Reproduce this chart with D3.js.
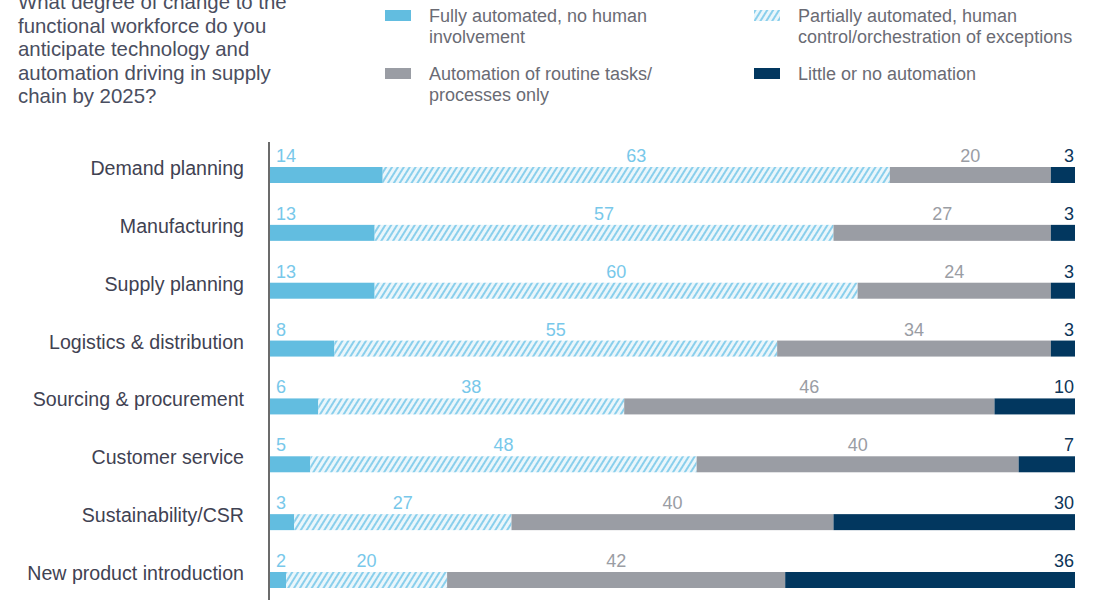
<!DOCTYPE html>
<html>
<head>
<meta charset="utf-8">
<script src="https://cdn.jsdelivr.net/npm/d3@7"></script>
<style>
  html, body { margin: 0; padding: 0; background: #fff; }
  #chart { width: 1094px; height: 600px; overflow: hidden; }
  text { font-family: "Liberation Sans", Arial, Helvetica, sans-serif; }
</style>
</head>
<body>
<div id="chart"></div>
<script>
// Supply chain automation by 2025 — stacked horizontal bars (percent)
const categories = [
  "Demand planning",
  "Manufacturing",
  "Supply planning",
  "Logistics & distribution",
  "Sourcing & procurement",
  "Customer service",
  "Sustainability/CSR",
  "New product introduction"
]

const fullyAutomated     = [14, 13, 13, 8, 6, 5, 3, 2]
const partiallyAutomated = [63, 57, 60, 55, 38, 48, 27, 20]
const routineOnly        = [20, 27, 24, 34, 46, 40, 40, 42]
const littleOrNone       = [3, 3, 3, 3, 10, 7, 30, 36]

const seriesKeys = ["fully", "partial", "routine", "little"]

const legendLabels = [
  ["Fully automated, no human", "involvement"],
  ["Partially automated, human", "control/orchestration of exceptions"],
  ["Automation of routine tasks/", "processes only"],
  ["Little or no automation"]
]

// first line is cropped by the top edge, as in the source image
const questionLines = [
  "What degree of change to the",
  "functional workforce do you",
  "anticipate technology and",
  "automation driving in supply",
  "chain by 2025?"
]

const width = 1094
const height = 600

const fills = {
  fully: "#62bde0",
  partial: "url(#hatch)",
  routine: "#9a9da4",
  little: "#02375f"
}
const labelColors = {
  fully: "#78c8ea",
  partial: "#78c8ea",
  routine: "#9a9da4",
  little: "#0d3558"
}

const rows = categories.map((c, i) => ({
  category: c,
  fully: fullyAutomated[i],
  partial: partiallyAutomated[i],
  routine: routineOnly[i],
  little: littleOrNone[i]
}))

const svg = d3.select("#chart")
  .append("svg")
  .attr("width", width)
  .attr("height", height)

// Hatch pattern for "partially automated"
const defs = svg.append("defs")
const pattern = defs.append("pattern")
  .attr("id", "hatch")
  .attr("patternUnits", "userSpaceOnUse")
  .attr("width", 5)
  .attr("height", 5)
  .attr("patternTransform", "rotate(32)")
pattern.append("rect")
  .attr("width", 5)
  .attr("height", 5)
  .attr("fill", "#eaf6fb")
pattern.append("rect")
  .attr("x", 0)
  .attr("width", 2)
  .attr("height", 5)
  .attr("fill", "#8acfec")

// Scales
const x = d3.scaleLinear()
  .domain([0, 100])
  .range([270, 1075])

const y = d3.scaleBand()
  .domain(categories)
  .range([167, 588])
  .paddingInner(0.7235)
  .paddingOuter(0)

const stack = d3.stack().keys(seriesKeys)
const stacked = stack(rows)

// Question text
svg.append("text")
  .attr("x", 18)
  .attr("y", 9)
  .attr("fill", "#4a4e60")
  .style("font-size", "20.4px")
  .selectAll("tspan")
  .data(questionLines)
  .join("tspan")
  .attr("x", 18)
  .attr("dy", (d, i) => i === 0 ? 0 : 23.5)
  .text(d => d)

// Legend
const legendPos = [
  { x: 385, y: 10 },
  { x: 754, y: 10 },
  { x: 385, y: 68 },
  { x: 754, y: 68 }
]
const legend = svg.append("g").attr("class", "legend")
seriesKeys.forEach((key, i) => {
  const p = legendPos[i]
  legend.append("rect")
    .attr("x", p.x)
    .attr("y", p.y)
    .attr("width", 26)
    .attr("height", 11)
    .attr("fill", fills[key])
  legend.append("text")
    .attr("x", p.x + 44)
    .attr("y", p.y + 12)
    .attr("fill", "#6a6b74")
    .style("font-size", "18px")
    .selectAll("tspan")
    .data(legendLabels[i])
    .join("tspan")
    .attr("x", p.x + 44)
    .attr("dy", (d, j) => j === 0 ? 0 : 21)
    .text(d => d)
})

// Bars
const layers = svg.append("g")
  .selectAll("g")
  .data(stacked)
  .join("g")
  .attr("fill", d => fills[d.key])

layers.selectAll("rect")
  .data(d => d)
  .join("rect")
  .attr("x", d => x(d[0]))
  .attr("y", d => y(d.data.category))
  .attr("width", d => x(d[1]) - x(d[0]))
  .attr("height", y.bandwidth())

// Value labels above each segment
const lastIdx = seriesKeys.length - 1
const labelLayers = svg.append("g")
  .selectAll("g")
  .data(stacked)
  .join("g")
  .attr("fill", d => labelColors[d.key])
  .style("font-size", "18px")

labelLayers.each(function(layer, li) {
  d3.select(this).selectAll("text")
    .data(layer)
    .join("text")
    .attr("x", d => {
      if (li === 0) return x(d[0]) + 6
      if (li === lastIdx) return x(d[1]) - 1
      return (x(d[0]) + x(d[1])) / 2
    })
    .attr("y", d => y(d.data.category) - 5)
    .attr("text-anchor", li === 0 ? "start" : (li === lastIdx ? "end" : "middle"))
    .text(d => d.data[layer.key])
})

// Category axis
const yAxis = d3.axisLeft(y)
  .tickSize(0)
  .tickPadding(25)

const axisG = svg.append("g")
  .attr("transform", `translate(269,0)`)
  .call(yAxis)

axisG.select(".domain").remove()
axisG.selectAll("text")
  .attr("dy", null)
  .attr("y", -y.bandwidth() / 2 + 8)
  .attr("fill", "#3f4252")
  .style("font-size", "19.6px")
  .style("font-family", "'Liberation Sans', Arial, sans-serif")

// Vertical baseline
svg.append("line")
  .attr("x1", 269)
  .attr("x2", 269)
  .attr("y1", y.range()[0] - 25)
  .attr("y2", height)
  .attr("stroke", "#3a3a3a")
  .attr("stroke-width", 1.5)
</script>
</body>
</html>
